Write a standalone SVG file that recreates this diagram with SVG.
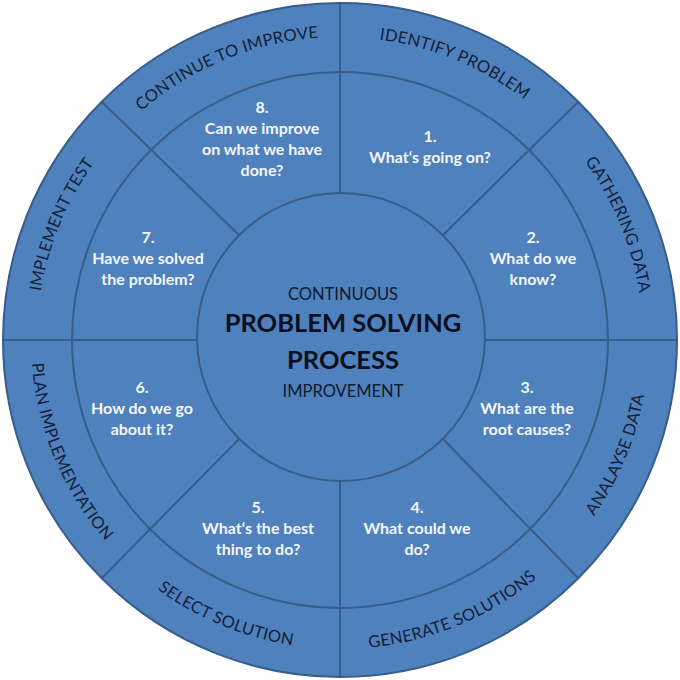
<svg xmlns="http://www.w3.org/2000/svg" xmlns:xlink="http://www.w3.org/1999/xlink" width="680" height="680" viewBox="0 0 680 680">
<style>
.ring{fill:none;stroke:#385D8A;stroke-width:2}
.div{stroke:#385D8A;stroke-width:2;fill:none}
.lab{font-family:Lato,"Open Sans","Liberation Sans",sans-serif;font-size:16.5px;fill:#13203a;letter-spacing:0.3px}
.q{font-family:Lato,"Open Sans","Liberation Sans",sans-serif;font-size:16px;font-weight:bold;fill:#f4f6fa;text-anchor:middle}
.c1{font-family:Lato,"Open Sans","Liberation Sans",sans-serif;font-size:16.5px;fill:#0e1a30;text-anchor:middle}
.c2{font-family:Lato,"Open Sans","Liberation Sans",sans-serif;font-size:25.5px;font-weight:bold;fill:#0a1020;text-anchor:middle}
</style>
<defs>
<path id="p1" d="M340,37 A303,303 0 0 1 554.25,125.75"/>
<path id="p2" d="M554.25,125.75 A303,303 0 0 1 643,340"/>
<path id="p8" d="M125.75,125.75 A303,303 0 0 1 340,37"/>
<path id="p7" d="M37,340 A303,303 0 0 1 125.75,125.75"/>
<path id="p3" d="M558.5,558.5 A309,309 0 0 0 649,340"/>
<path id="p4" d="M340,649 A309,309 0 0 0 558.5,558.5"/>
<path id="p5" d="M121.5,558.5 A309,309 0 0 0 340,649"/>
<path id="p6" d="M31,340 A309,309 0 0 0 121.5,558.5"/>
</defs>
<g id="wheel">
<circle cx="340" cy="340" r="337" fill="#4F81BD" stroke="#385D8A" stroke-width="2"/>
<circle class="ring" cx="340" cy="340" r="268"/>
<circle class="ring" cx="341" cy="337" r="144"/>
</g>
<g id="connectors">
<line class="div" x1="340" y1="3" x2="340" y2="193"/>
<line class="div" x1="340" y1="481" x2="340" y2="677"/>
<line class="div" x1="3" y1="340" x2="197" y2="340"/>
<line class="div" x1="485" y1="340" x2="677" y2="340"/>
<line class="div" x1="101.7" y1="101.7" x2="239.2" y2="235.2"/>
<line class="div" x1="578.3" y1="101.7" x2="442.8" y2="235.2"/>
<line class="div" x1="101.7" y1="578.3" x2="239.2" y2="438.8"/>
<line class="div" x1="578.3" y1="578.3" x2="442.8" y2="438.8"/>
</g>
<g id="step1">
<text class="lab"><textPath xlink:href="#p1" href="#p1" startOffset="50%" text-anchor="middle">IDENTIFY PROBLEM</textPath></text>
<text class="q" x="430" y="142">1.</text>
<text class="q" x="430" y="163">What‘s going on?</text>
</g>
<g id="step2">
<text class="lab"><textPath xlink:href="#p2" href="#p2" startOffset="50%" text-anchor="middle">GATHERING DATA</textPath></text>
<text class="q" x="533" y="243">2.</text>
<text class="q" x="533" y="264">What do we</text>
<text class="q" x="533" y="285">know?</text>
</g>
<g id="step3">
<text class="lab"><textPath xlink:href="#p3" href="#p3" startOffset="50%" text-anchor="middle">ANALAYSE DATA</textPath></text>
<text class="q" x="527" y="393">3.</text>
<text class="q" x="527" y="414">What are the</text>
<text class="q" x="527" y="435">root causes?</text>
</g>
<g id="step4">
<text class="lab"><textPath xlink:href="#p4" href="#p4" startOffset="50%" text-anchor="middle">GENERATE SOLUTIONS</textPath></text>
<text class="q" x="417" y="513">4.</text>
<text class="q" x="417" y="534">What could we</text>
<text class="q" x="417" y="555">do?</text>
</g>
<g id="step5">
<text class="lab"><textPath xlink:href="#p5" href="#p5" startOffset="50%" text-anchor="middle">SELECT SOLUTION</textPath></text>
<text class="q" x="258" y="513">5.</text>
<text class="q" x="258" y="534">What‘s the best</text>
<text class="q" x="258" y="555">thing to do?</text>
</g>
<g id="step6">
<text class="lab"><textPath xlink:href="#p6" href="#p6" startOffset="50%" text-anchor="middle">PLAN IMPLEMENTATION</textPath></text>
<text class="q" x="142" y="393">6.</text>
<text class="q" x="142" y="414">How do we go</text>
<text class="q" x="142" y="435">about it?</text>
</g>
<g id="step7">
<text class="lab"><textPath xlink:href="#p7" href="#p7" startOffset="50%" text-anchor="middle">IMPLEMENT TEST</textPath></text>
<text class="q" x="148" y="243">7.</text>
<text class="q" x="148" y="264">Have we solved</text>
<text class="q" x="148" y="285">the problem?</text>
</g>
<g id="step8">
<text class="lab"><textPath xlink:href="#p8" href="#p8" startOffset="50%" text-anchor="middle">CONTINUE TO IMPROVE</textPath></text>
<text class="q" x="262" y="113">8.</text>
<text class="q" x="262" y="134">Can we improve</text>
<text class="q" x="262" y="155">on what we have</text>
<text class="q" x="262" y="176">done?</text>
</g>
<g id="center">
<text class="c1" x="343" y="300">CONTINUOUS</text>
<text class="c2" x="343" y="332">PROBLEM SOLVING</text>
<text class="c2" x="343" y="369">PROCESS</text>
<text class="c1" x="343" y="397">IMPROVEMENT</text>
</g>
</svg>
